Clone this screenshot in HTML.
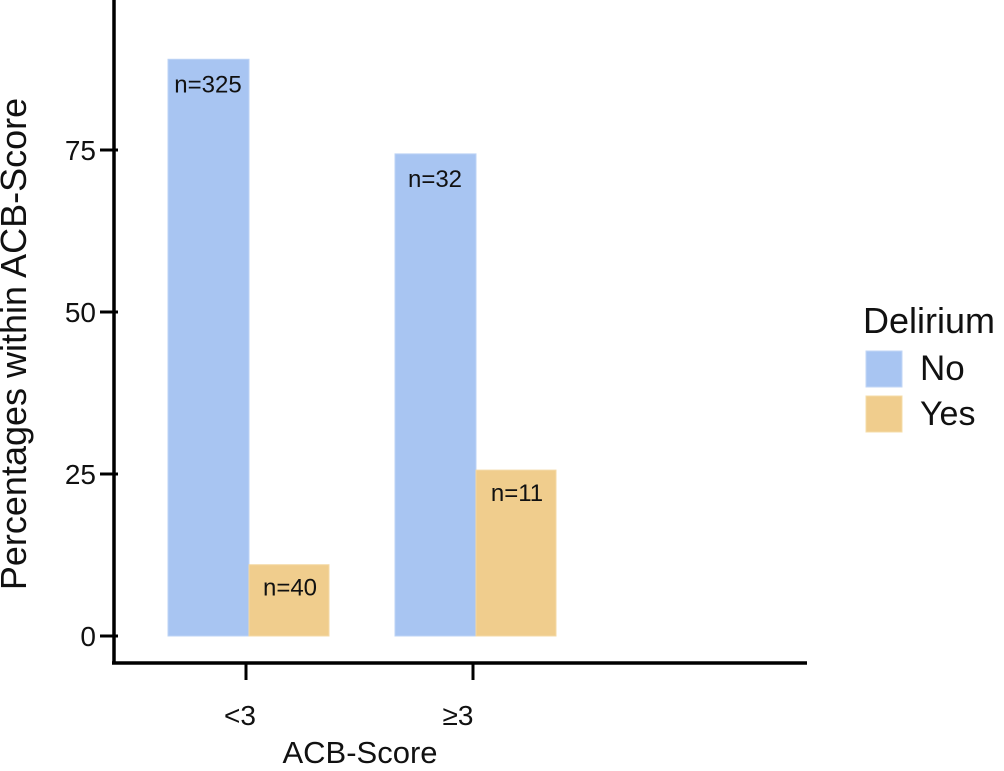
<!DOCTYPE html>
<html><head><meta charset="utf-8"><style>
body{margin:0;background:#fff;width:1004px;height:766px;overflow:hidden}
svg text{font-family:"Liberation Sans",sans-serif}
</style></head><body>
<svg id="c" width="1004" height="766">
<g id="axes"></g><g id="bars"></g><g id="labels"></g>
<g>
<text x="863" y="333" font-size="36" fill="#111">Delirium</text>
<rect x="866" y="351" width="36" height="36" fill="#a8c5f2" stroke="#c2d6f6"/>
<text x="920" y="380" font-size="35" fill="#111">No</text>
<rect x="866" y="396" width="36" height="36" fill="#f0cd8d" stroke="#f5dca8"/>
<text x="920" y="425" font-size="34" fill="#111">Yes</text>
</g>
<text transform="translate(26,344) rotate(-90)" text-anchor="middle" font-size="36" fill="#111">Percentages within ACB-Score</text>
<text x="360" y="763" text-anchor="middle" font-size="31" fill="#111">ACB-Score</text>
</svg>
<script>
const categories=["<3","≥3"];
const noValues=[89.0,74.4];
const yesValues=[11.0,25.6];
const noCounts=["n=325","n=32"];
const yesCounts=["n=40","n=11"];
const yTicks=[0,25,50,75];
const NS="http://www.w3.org/2000/svg";
const y=v=>636-v*6.48;
const catX=[248,475];
const labelX=[240,458];
function mk(tag,attrs,parent,text){const e=document.createElementNS(NS,tag);for(const k in attrs)e.setAttribute(k,attrs[k]);if(text!==undefined)e.textContent=text;document.getElementById(parent).appendChild(e);return e;}
let e=mk('line',{x1:114,y1:0,x2:114,y2:664,stroke:'#000','stroke-width':3.5},'axes');


e=mk('line',{x1:112,y1:663,x2:807,y2:663,stroke:'#000','stroke-width':3.5},'axes');


yTicks.forEach(t=>{
 e=mk('line',{x1:100,y1:y(t),x2:118,y2:y(t),stroke:'#000','stroke-width':3},'axes');
 
 
 e=mk('text',{x:96,y:y(t)+10,'text-anchor':'end','font-size':28,fill:'#111'},'axes',t);
 
 
});
categories.forEach((c,i)=>{
 const cx=catX[i];
 e=mk('line',{x1:cx-2,y1:663,x2:cx-2,y2:680,stroke:'#000','stroke-width':3},'axes');
 
 
 e=mk('text',{x:labelX[i],y:725,'text-anchor':'middle','font-size':28,fill:'#111'},'axes',c);
 
 
 const x0=cx-80;
 e=mk('rect',{x:x0,y:y(noValues[i]),width:81,height:636-y(noValues[i]),fill:'#a8c5f2',stroke:'#bcd3f5','stroke-width':1},'bars');
 
 
 e=mk('rect',{x:cx+1,y:y(yesValues[i]),width:80,height:636-y(yesValues[i]),fill:'#f0cd8d',stroke:'#f4d9a5','stroke-width':1},'bars');
 
 
 e=mk('text',{x:x0+40,y:y(noValues[i])+33,'text-anchor':'middle','font-size':24,fill:'#111'},'labels',noCounts[i]);
 
 
 e=mk('text',{x:cx+42,y:y(yesValues[i])+31,'text-anchor':'middle','font-size':24,fill:'#111'},'labels',yesCounts[i]);
 
 
});
</script>
</body></html>
